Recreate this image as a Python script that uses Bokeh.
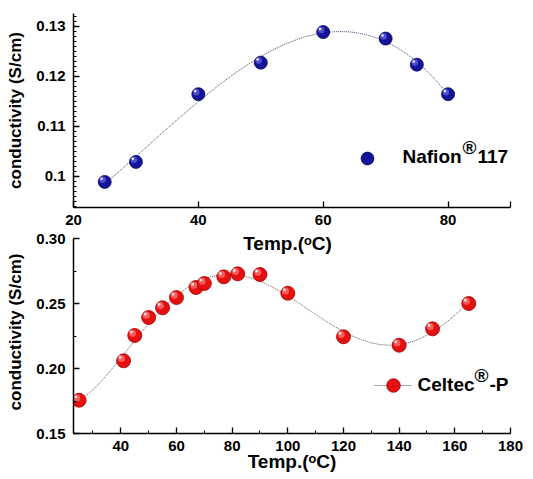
import numpy as np
from bokeh.plotting import figure
from bokeh.layouts import column
from bokeh.models import (FixedTicker, NumeralTickFormatter, Label, Legend,
                          LegendItem, Range1d)
from bokeh.embed import file_html
from bokeh.resources import INLINE

# ---------------- data ----------------
nafion_temp = [25, 30, 40, 50, 60, 70, 75, 80]
nafion_cond = [0.0989, 0.1029, 0.1164, 0.1227, 0.1288, 0.1275, 0.1223, 0.1164]

celtec_temp = [25, 41, 45, 50, 55, 60, 67, 70, 77, 82, 90, 100, 120, 140, 152, 165]
celtec_cond = [0.1756, 0.2059, 0.2254, 0.2392, 0.2467, 0.2546, 0.2623, 0.2654,
               0.2705, 0.2728, 0.2723, 0.2579, 0.2244, 0.2179, 0.2305, 0.2500]

top_xticks = [20, 40, 60, 80, 90]
top_yticks = [0.10, 0.11, 0.12, 0.13]
bot_xticks = [40, 60, 80, 100, 120, 140, 160, 180]
bot_yticks = [0.15, 0.20, 0.25, 0.30]

x_title = "Temp.(ᵒC)"
y_title = "conductivity (S/cm)"
FONT = "Liberation Sans"

# ---------------- layout constants ----------------
W = 533
TOP_H, BOT_H = 228, 251
LEFT, RIGHT = 73, 23
FRAME_W = W - LEFT - RIGHT
TOP_FT, TOP_FB = 13, 21
BOT_FT, BOT_FB = 2, 46
top_fh = TOP_H - TOP_FT - TOP_FB
bot_fh = BOT_H - BOT_FT - BOT_FB
TOP_RANGE_X, TOP_RANGE_Y = (20, 90), (0.0938, 0.1325)
BOT_RANGE_X = (23, 180)
BOT_AXIS_Y = (0.15, 0.30)
# lower frame reaches 8 px above the 0.30 end of its axis so the upper title fits
BOT_RANGE_Y = (0.15, 0.15 + 0.15 * bot_fh / (bot_fh - 8))


def fit_curve(xs, ys, deg, n=400):
    P = np.polynomial.Polynomial.fit(np.asarray(xs, float), np.asarray(ys, float), deg)
    xx = np.linspace(min(xs), max(xs), n)
    return xx, P(xx)


def make_fig(height, border_top, border_bottom, xr, yr):
    p = figure(width=W, height=height, output_backend="svg", toolbar_location=None,
               x_range=Range1d(*xr), y_range=Range1d(*yr),
               min_border_left=LEFT, min_border_right=RIGHT,
               min_border_top=border_top, min_border_bottom=border_bottom)
    p.outline_line_color = None
    p.grid.visible = False
    p.background_fill_color = "white"
    p.border_fill_color = "white"
    for ax in (p.xaxis[0], p.yaxis[0]):
        ax.axis_line_width = 1.5
        ax.axis_line_color = "black"
        ax.major_tick_in = 6
        ax.major_tick_out = 0
        ax.minor_tick_in = 3
        ax.minor_tick_out = 0
        ax.major_tick_line_width = 1.3
        ax.minor_tick_line_width = 1
        ax.major_label_text_font = FONT
        ax.major_label_text_font_style = "bold"
        ax.major_label_text_font_size = "15px"
        ax.major_label_text_color = "black"
        ax.axis_label_text_font = FONT
        ax.axis_label_text_font_style = "bold"
        ax.axis_label_text_font_size = "17px"
        ax.axis_label_text_color = "black"
    p.xaxis.major_label_standoff = 7
    p.yaxis.major_label_standoff = 8
    p.yaxis.axis_label = y_title
    p.yaxis.axis_label_standoff = 8
    return p


def spheres(p, xs, ys, size, base, edge, mid, spec, xr, yr, fh):
    xs = np.asarray(xs, float)
    ys = np.asarray(ys, float)
    r = p.scatter(xs, ys, size=size, fill_color=base, line_color=edge, line_width=0.8)
    dx = -size * 0.16 * (xr[1] - xr[0]) / FRAME_W
    dy = size * 0.16 * (yr[1] - yr[0]) / fh
    p.scatter(xs + dx, ys + dy, size=size * 0.5, fill_color=mid, line_color=None, fill_alpha=0.85)
    p.scatter(xs + dx * 1.5, ys + dy * 1.5, size=size * 0.2, fill_color=spec, line_color=None)
    return r


def label(p, x, y, text, size, align="left"):
    p.add_layout(Label(x=x, y=y, text=text, text_font=FONT, text_font_style="bold",
                       text_font_size=f"{size}px", text_color="black",
                       text_align=align, text_baseline="middle"))


# ---------------- top: Nafion 117 ----------------
p1 = make_fig(TOP_H, TOP_FT, TOP_FB, TOP_RANGE_X, TOP_RANGE_Y)
p1.xaxis.ticker = FixedTicker(ticks=top_xticks, minor_ticks=[])
p1.xaxis.major_label_overrides = {90: ""}
p1.yaxis.ticker = FixedTicker(ticks=top_yticks,
                              minor_ticks=[round(0.094 + 0.001 * i, 3) for i in range(39)])
p1.yaxis.formatter = NumeralTickFormatter(format="0.0[0]")

sx, sy = fit_curve(nafion_temp, nafion_cond, 3)
p1.line(sx, sy, line_color="#3a3a6a", line_width=1, line_dash="1 1")
r_naf = spheres(p1, nafion_temp, nafion_cond, 13, "#14149a", "#05055a", "#5a5ad8", "#e8e8ff",
                TOP_RANGE_X, TOP_RANGE_Y, top_fh)


def top_px(px, py):
    x = TOP_RANGE_X[0] + (px - LEFT) * (TOP_RANGE_X[1] - TOP_RANGE_X[0]) / FRAME_W
    y = TOP_RANGE_Y[0] + (TOP_FT + top_fh - py) * (TOP_RANGE_Y[1] - TOP_RANGE_Y[0]) / top_fh
    return x, y


leg1 = Legend(items=[LegendItem(label=" ", renderers=[r_naf])], location=(278, 33),
              padding=0, margin=0, spacing=0, glyph_width=32, glyph_height=32,
              label_standoff=0, label_text_font_size="1px",
              background_fill_alpha=0, border_line_color=None)
p1.add_layout(leg1)
label(p1, *top_px(402, 156), "Nafion", 19)
label(p1, *top_px(462, 147), "®", 19)
label(p1, *top_px(477, 156), "117", 19)

# ---------------- bottom: Celtec-P ----------------
p2 = make_fig(BOT_H, BOT_FT, BOT_FB, BOT_RANGE_X, BOT_RANGE_Y)
p2.yaxis.bounds = BOT_AXIS_Y
p2.xaxis.ticker = FixedTicker(ticks=bot_xticks, minor_ticks=list(range(30, 180, 10)))
p2.yaxis.ticker = FixedTicker(ticks=bot_yticks, minor_ticks=[0.175, 0.225, 0.275])
p2.yaxis.formatter = NumeralTickFormatter(format="0.00")
p2.xaxis.axis_label = x_title
p2.xaxis.axis_label_text_font_size = "19px"
p2.xaxis.axis_label_standoff = -3

sx2, sy2 = fit_curve(celtec_temp, celtec_cond, 5)
r_line = p2.line(sx2, sy2, line_color="#555555", line_width=1, line_dash="1 1")
r_cel = spheres(p2, celtec_temp, celtec_cond, 14, "#e51010", "#a00000", "#ff6a6a", "#ffe0e0",
                BOT_RANGE_X, BOT_RANGE_Y, bot_fh)


def bot_px(px, py):
    # py is measured on the whole page; bottom figure starts at TOP_H
    x = BOT_RANGE_X[0] + (px - LEFT) * (BOT_RANGE_X[1] - BOT_RANGE_X[0]) / FRAME_W
    y = BOT_RANGE_Y[0] + (TOP_H + BOT_FT + bot_fh - py) * (BOT_RANGE_Y[1] - BOT_RANGE_Y[0]) / bot_fh
    return x, y


leg2 = Legend(items=[LegendItem(label=" ", renderers=[r_line, r_cel])], location=(301, 31),
              padding=0, margin=0, spacing=0, glyph_width=38, glyph_height=34,
              label_standoff=0, label_text_font_size="1px",
              background_fill_alpha=0, border_line_color=None)
p2.add_layout(leg2)
label(p2, *bot_px(417, 384), "Celtec", 19)
label(p2, *bot_px(474, 375), "®", 19)
label(p2, *bot_px(489, 384), "-P", 19)

# x-axis title of the upper panel sits just over the lower panel, as in the original
label(p2, *bot_px(287, 243), x_title, 19, align="center")

layout = column(p1, p2, spacing=0)
open("out.html", "w").write(file_html(layout, INLINE))
